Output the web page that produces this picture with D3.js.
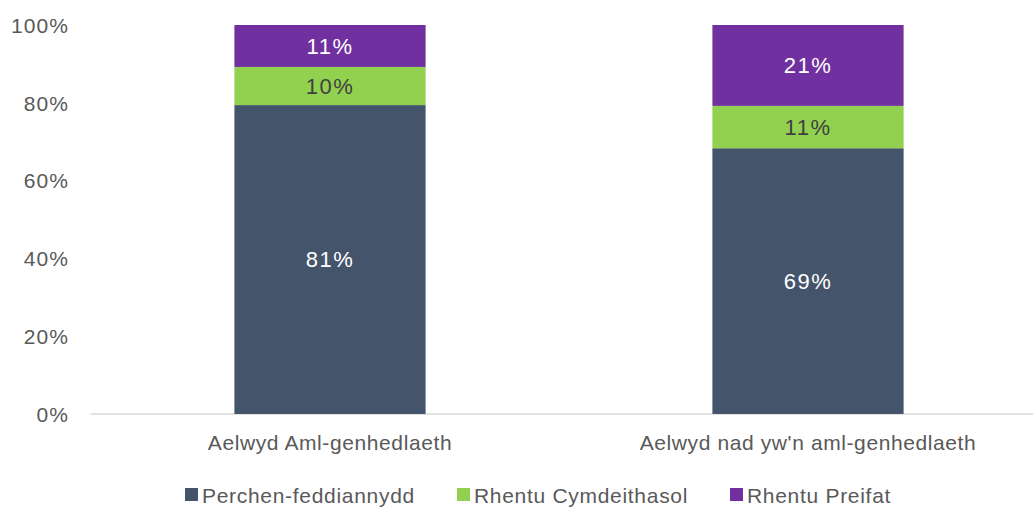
<!DOCTYPE html>
<html><head><meta charset="utf-8">
<script src="https://cdn.jsdelivr.net/npm/d3@7"></script>
<style>
body{margin:0;background:#fff;}
svg{display:block;font-family:"Liberation Sans","Open Sans",sans-serif;}
</style></head>
<body><svg id="c" width="1033" height="507"></svg>
<script>
const categories = ["Aelwyd Aml-genhedlaeth", "Aelwyd nad yw'n aml-genhedlaeth"];
const seriesNames = ["Perchen-feddiannydd", "Rhentu Cymdeithasol", "Rhentu Preifat"];
const ownerOccupied = [81, 69];
const socialRent = [10, 11];
const privateRent = [11, 21];
const yTicks = [0, 0.2, 0.4, 0.6, 0.8, 1.0];
const colors = ["#44546A", "#92D050", "#7030A0"];
const labelColors = ["#ffffff", "#404040", "#ffffff"];

const svg = d3.select("#c");
const rows = categories.map((c, i) => ({cat: c, s0: ownerOccupied[i], s1: socialRent[i], s2: privateRent[i]}));
const rowsNorm = rows.map(r => { const t = r.s0 + r.s1 + r.s2; return {cat: r.cat, s0: r.s0 / t, s1: r.s1 / t, s2: r.s2 / t, raw: r}; });
const stack = d3.stack().keys(["s0", "s1", "s2"])(rowsNorm);

const x = d3.scaleBand().domain(categories).range([91, 1047]).paddingInner(0.6).paddingOuter(0.3);
const y = d3.scaleLinear().domain([0, 1]).range([414, 25]);

// axis line
svg.append("line").attr("x1", 91).attr("x2", 1033).attr("y1", y(0)).attr("y2", y(0))
  .attr("stroke", "#d9d9d9").attr("stroke-width", 1.5);

// y ticks
const yAxis = d3.axisLeft(y).tickValues(yTicks).tickFormat(d3.format(".0%")).tickSize(0).tickPadding(0);
const gy = svg.append("g").attr("transform", "translate(69,0)").call(yAxis);
gy.select(".domain").remove();
gy.selectAll("text").attr("font-size", 21).attr("letter-spacing", 1.1).attr("fill", "#595959")
  .attr("font-family", "Liberation Sans, sans-serif").attr("dy", "0.35em");

// bars
stack.forEach((layer, li) => {
  const g = svg.append("g");
  g.selectAll("rect").data(layer).join("rect")
    .attr("x", d => x(d.data.cat))
    .attr("width", x.bandwidth())
    .attr("y", d => y(d[1]))
    .attr("height", d => y(d[0]) - y(d[1]))
    .attr("fill", colors[li]);
  g.selectAll("text").data(layer).join("text")
    .attr("x", d => x(d.data.cat) + x.bandwidth() / 2)
    .attr("y", d => (y(d[0]) + y(d[1])) / 2)
    .attr("dy", "0.36em")
    .attr("text-anchor", "middle")
    .attr("font-size", 22)
    .attr("letter-spacing", 1.5)
    .attr("fill", labelColors[li])
    .text(d => d.data.raw["s" + li] + "%");
});

// x labels
const xAxis = d3.axisBottom(x).tickSize(0).tickPadding(0);
const gx = svg.append("g").attr("transform", "translate(0,443)").call(xAxis);
gx.select(".domain").remove();
gx.selectAll("text").attr("font-size", 21).attr("letter-spacing", 0.6).attr("fill", "#595959")
  .attr("font-family", "Liberation Sans, sans-serif").attr("dy", "0.35em");

// legend
const legX = [185, 457, 730];
const leg = svg.append("g");
seriesNames.forEach((n, i) => {
  leg.append("rect").attr("x", legX[i]).attr("y", 488).attr("width", 13).attr("height", 13).attr("fill", colors[i]);
  leg.append("text").attr("x", legX[i] + 17).attr("y", 495).attr("dy", "0.36em")
    .attr("font-size", 21).attr("letter-spacing", 0.7).attr("fill", "#595959").text(n);
});
</script></body></html>
